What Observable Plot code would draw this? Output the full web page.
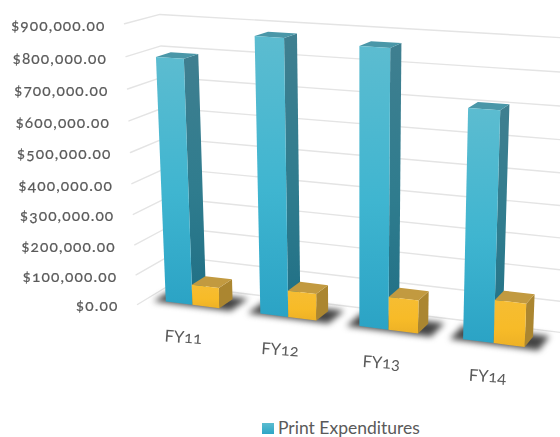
<!DOCTYPE html>
<html><head><meta charset="utf-8">
<script src="https://cdn.jsdelivr.net/npm/d3@7"></script>
<script src="https://cdn.jsdelivr.net/npm/@observablehq/plot@0.6"></script>
<style>
html,body{margin:0;padding:0;background:#fff;width:560px;height:437px;overflow:hidden}
#chart svg{display:block;filter:blur(0.35px)}
.shadow{filter:blur(3px)}
text{font-variant-numeric:oldstyle-nums;font-feature-settings:"onum"}
.tick text{letter-spacing:1.1px}
#legend{height:27px;position:relative;font:17.5px Lato,sans-serif;color:#5a5a5a;font-feature-settings:"onum"}
#legend i{position:absolute;left:262px;top:13px;width:12px;height:11px;background:linear-gradient(#5bbcd0,#2da6c6)}
#legend span{position:absolute;left:278px;top:7px;white-space:nowrap;line-height:22px}
</style></head><body>
<div id="chart"></div>
<div id="legend"><i></i><span id="legendText"></span></div>
<script>
const categories = ["FY11", "FY12", "FY13", "FY14"];
const printValues = [794000, 877000, 867000, 708000];
const secondValues = [68000, 87000, 106000, 136000];
const tickValues = [0, 100000, 200000, 300000, 400000, 500000, 600000, 700000, 800000, 900000];
const tickLabels = ["$0.00", "$100,000.00", "$200,000.00", "$300,000.00", "$400,000.00", "$500,000.00", "$600,000.00", "$700,000.00", "$800,000.00", "$900,000.00"];
const legendLabel = "Print Expenditures";

// Perspective camera of the 3D chart box: origin + three axes in homogeneous coordinates
const W = 560, H = 410, vMax = 900000;
const O = [137, 304, 1], U = [357.3, 20.25, -0.09], V = [-19.85, -282, -0.0553], D = [40, -8.26, 0.0413];
function project(u, value, w) {
  const v = value / vMax;
  const p = [0, 1, 2].map(i => O[i] + u * U[i] + v * V[i] + w * D[i]);
  return {x: p[0] / p[2], y: p[1] / p[2]};
}
const depthFront = 0.27, depthBack = 0.70, barStart = 0.052, barWidth = 0.0715, step = 1 / categories.length;

const gridRows = tickValues.flatMap((t, i) => [[0, 0], [0, 1], [1, 1]].map(([u, w]) => ({id: i, ...project(u, t, w)})));
const tickRows = tickValues.map((t, i) => ({...project(0, t, 0), label: tickLabels[i]}));
const catRows = categories.map((c, i) => ({...project(step * (i + 0.5), 0, 0), label: c}));

const faces = {shadow: [], bf: [], bs: [], bt: [], yf: [], ys: [], yt: []};
function poly(key, id, pts) { pts.forEach(([u, val, w]) => faces[key].push({id: key + id, ...project(u, val, w)})); }
categories.forEach((c, i) => {
  const u0 = barStart + step * i, u1 = u0 + barWidth, u2 = u1 + barWidth;
  const a = printValues[i], b = secondValues[i], f = depthFront, k = depthBack;
  poly("shadow", i, [[u0 - 0.028, 0, f - 0.06], [u2 + 0.034, 0, f - 0.06], [u2 + 0.034, 0, k + 0.1], [u0 - 0.028, 0, k + 0.1]]);
  poly("bf", i, [[u0, a, f], [u1, a, f], [u1, 0, f], [u0, 0, f]]);
  poly("bs", i, [[u1, a, f], [u1, a, k], [u1, 0, k], [u1, 0, f]]);
  poly("bt", i, [[u0, a, f], [u1, a, f], [u1, a, k], [u0, a, k]]);
  poly("yf", i, [[u1, b, f], [u2, b, f], [u2, 0, f], [u1, 0, f]]);
  poly("ys", i, [[u2, b, f], [u2, b, k], [u2, 0, k], [u2, 0, f]]);
  poly("yt", i, [[u1, b, f], [u2, b, f], [u2, b, k], [u1, b, k]]);
});
const face = (key, fill, extra = {}) => Plot.line(faces[key], {x: "x", y: "y", z: "id", fill, stroke: "none", ...extra});

const defs = () => {
  const s = d3.create("svg:defs");
  const grad = (id, stops) => {
    const g = s.append("linearGradient").attr("id", id).attr("x1", 0).attr("y1", 0).attr("x2", 0).attr("y2", 1);
    stops.forEach(([o, c]) => g.append("stop").attr("offset", o).attr("stop-color", c));
  };
  grad("gBlueFront", [[0, "#5cbcd0"], [0.55, "#3fb5d0"], [1, "#2ba3c5"]]);
  grad("gBlueSide", [[0, "#3f7f90"], [0.55, "#2f7c8e"], [1, "#1f6f85"]]);
  grad("gYellowFront", [[0, "#f6bd33"], [0.6, "#f7bb28"], [1, "#edb126"]]);
  return s.node();
};

const chart = Plot.plot({
  width: W, height: H, margin: 0,
  x: {domain: [0, W], range: [0, W], axis: null},
  y: {domain: [0, H], range: [0, H], axis: null},
  marks: [
    defs,
    Plot.line(gridRows, {x: "x", y: "y", z: "id", stroke: "#e4e4e4", strokeWidth: 1.4}),
    face("shadow", "#444444", {className: "shadow"}),
    face("bs", "url(#gBlueSide)"),
    face("bt", "#4a97a8"),
    face("bf", "url(#gBlueFront)"),
    face("ys", "#ab8630"),
    face("yt", "#c29a40"),
    face("yf", "url(#gYellowFront)"),
    Plot.text(tickRows, {x: "x", y: "y", text: "label", textAnchor: "end", dx: -19, dy: 2, fontSize: 15.5, fontFamily: "Lato", fill: "#5a5a5a", stroke: "#5a5a5a", strokeWidth: 0.2, className: "tick"}),
    Plot.text(catRows, {x: "x", y: "y", text: "label", dy: 27, dx: -1, rotate: 4, fontSize: 16.5, fontFamily: "Lato", fill: "#5a5a5a"})
  ]
});
document.getElementById("chart").append(chart);
document.getElementById("legendText").textContent = legendLabel;
</script>
</body></html>
